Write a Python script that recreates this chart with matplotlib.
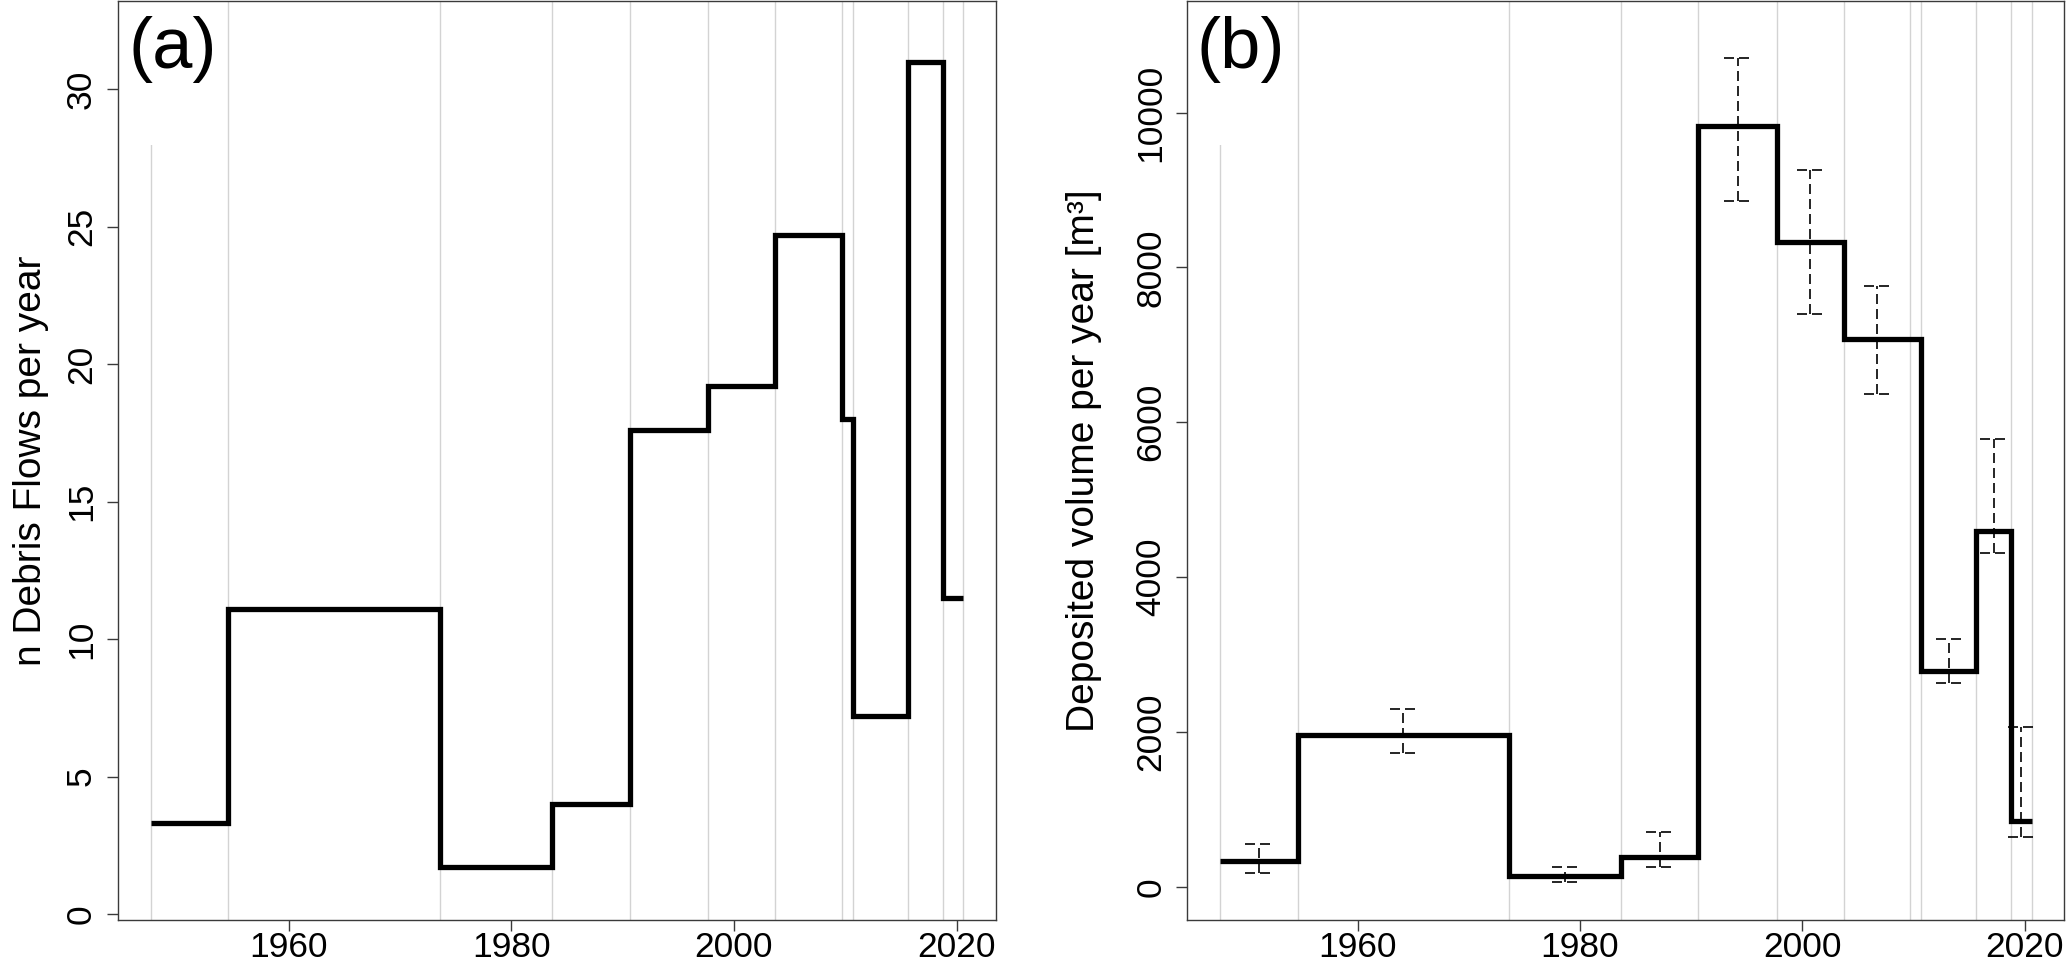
import numpy as np
import matplotlib
matplotlib.use("Agg")
import matplotlib.pyplot as plt
from matplotlib.patches import Rectangle

plt.rcParams['font.family'] = ['Liberation Sans', 'DejaVu Sans']

# ---- data ----
period_edges = [1947.6, 1954.6, 1973.6, 1983.7, 1990.65, 1997.7, 2003.7,
                2009.7, 2010.7, 2015.65, 2018.75, 2020.6]
n_debris_flows = [3.3, 11.1, 1.7, 4.0, 17.6, 19.2, 24.7, 18.0, 7.2, 31.0, 11.5]
deposited_volume = [330, 1960, 140, 380, 9830, 8330, 7080, 7080, 2790, 4590, 855]
volume_lower = [174, 1723, 55, 255, 8862, 7399, 6364, np.nan, 2627, 4305, 647]
volume_upper = [553, 2300, 260, 711, 10711, 9265, 7763, np.nan, 3203, 5779, 2065]

x_ticks = [1960, 1980, 2000, 2020]
y_ticks_a = [0, 5, 10, 15, 20, 25, 30]
y_ticks_b = [0, 2000, 4000, 6000, 8000, 10000]
ylabel_a = "n Debris Flows per year"
ylabel_b = "Deposited volume per year [m\u00b3]"

# ---- figure ----
W, H, DPI = 2066, 960, 100
fig = plt.figure(figsize=(W / DPI, H / DPI), dpi=DPI)
ax_a = fig.add_axes([118 / W, 40 / H, 877.7 / W, 919 / H])
ax_b = fig.add_axes([1187.3 / W, 40 / H, 876.7 / W, 919 / H])

edges = np.array(period_edges)
mids = (edges[:-1] + edges[1:]) / 2
grid_col = '#d3d3d3'
spine_col = '#3a3a3a'
TICK_FS = 25.5
LAB_FS = 28


def style(ax, ylim, yticks, ylabel, labx, tag, tagx):
    ax.set_xlim(1944.68, 2023.52)
    ax.set_ylim(*ylim)
    ax.set_xticks(x_ticks)
    ax.set_yticks(yticks)
    ax.set_yticklabels([str(t) for t in yticks], rotation=90, va='center')
    ax.tick_params(axis='both', labelsize=TICK_FS, length=8, width=1.0,
                   color=spine_col)
    ax.tick_params(axis='x', pad=0.0)
    ax.tick_params(axis='y', pad=6.5)
    for s in ax.spines.values():
        s.set_color(spine_col)
        s.set_linewidth(1.0)
    ax.set_ylabel(ylabel, fontsize=LAB_FS)
    ax.yaxis.set_label_coords(labx, 0.5)
    # vertical period gridlines
    for e in edges:
        ax.axvline(e, color=grid_col, lw=1.0, zorder=1)
    # white legend-like box covering the first gridline at the top
    ax.add_patch(Rectangle((0, 0.843), 0.1, 0.157, transform=ax.transAxes,
                           facecolor='white', edgecolor='none', zorder=2))
    ax.text(tagx, 0.9467, tag, transform=ax.transAxes, fontsize=52,
            ha='center', va='center', zorder=3)


# panel (a)
style(ax_a, (-0.22, 33.21), y_ticks_a, ylabel_a, -0.079, "(a)", 0.0627)
ya = np.append(n_debris_flows, n_debris_flows[-1])
ax_a.step(edges, ya, where='post', color='black', lw=3.8, zorder=4,
          solid_joinstyle='miter', solid_capstyle='butt')

# panel (b)
style(ax_b, (-430, 11443), y_ticks_b, ylabel_b, -0.097, "(b)", 0.0612)
yb = np.append(deposited_volume, deposited_volume[-1])
ax_b.step(edges, yb, where='post', color='black', lw=3.8, zorder=4,
          solid_joinstyle='miter', solid_capstyle='butt')

lo = np.array(volume_lower, dtype=float)
hi = np.array(volume_upper, dtype=float)
ok = ~np.isnan(lo)
cap = 1.2
dash = (0, (6, 3))
ax_b.vlines(mids[ok], lo[ok], hi[ok], colors='black', lw=1.2,
            linestyles=[dash], zorder=5)
ax_b.hlines(lo[ok], mids[ok] - cap, mids[ok] + cap, colors='black', lw=1.2,
            linestyles=[dash], zorder=5)
ax_b.hlines(hi[ok], mids[ok] - cap, mids[ok] + cap, colors='black', lw=1.2,
            linestyles=[dash], zorder=5)

fig.savefig("out.png", dpi=DPI, facecolor='white')
